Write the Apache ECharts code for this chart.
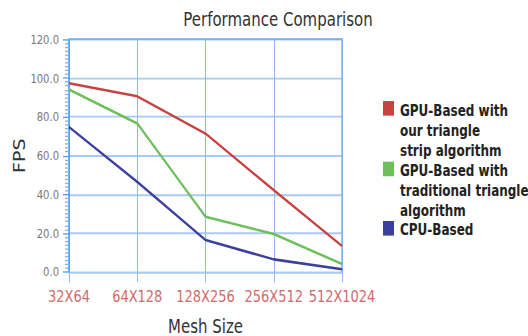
<!DOCTYPE html>
<html>
<head>
<meta charset="utf-8">
<script src="https://cdn.jsdelivr.net/npm/echarts@6/dist/echarts.min.js"></script>
<style>
  html, body { margin: 0; padding: 0; background: #fff; }
  body { width: 528px; height: 336px; }
  /* drawn at a shorter height and stretched vertically */
  #chart { width: 528px; height: 265px; transform: scaleY(1.268); transform-origin: 0 0; }
</style>
</head>
<body>
<div id="chart"></div>
<script>
const categories = ['32X64', '64X128', '128X256', '256X512', '512X1024'];
const stripGpu = [97.3, 90.6, 71.4, 42.2, 13.4];
const traditionalGpu = [94.1, 76.6, 28.5, 19.6, 4.1];
const cpuBased = [74.8, 46.5, 16.5, 6.5, 1.4];
const seriesNames = [
  'GPU-Based with\nour triangle\nstrip algorithm',
  'GPU-Based with\ntraditional triangle\nalgorithm',
  'CPU-Based'
];
const seriesColors = ['#c84242', '#6cbf5a', '#3c3f9e'];
const seriesValues = [stripGpu, traditionalGpu, cpuBased];

const chart = echarts.init(document.getElementById('chart'), null, { renderer: 'svg' });

const gridBlue = '#a9caf3';
const axisBlue = '#4a9ee8';

// legend swatches and labels, placed beside the plot
const legendTop = [79.7, 127.5, 174.3];
const legendLines = [87.5, 134.6, 180.6];
const legendGraphics = [];
seriesNames.forEach((name, i) => {
  legendGraphics.push({
    type: 'rect',
    shape: { x: 383, y: legendTop[i], width: 11, height: 11.5 },
    style: { fill: seriesColors[i] }
  });
  legendGraphics.push({
    type: 'text',
    x: 400,
    y: legendLines[i] - 7.75,
    style: {
      text: name,
      fill: '#222',
      font: 'bold 12px "DejaVu Sans"',
      lineHeight: 15.5,
      verticalAlign: 'top'
    }
  });
});

chart.setOption({
  animation: false,
  title: {
    text: 'Performance Comparison',
    left: 273,
    textAlign: 'center',
    top: 3,
    textStyle: { fontFamily: 'DejaVu Sans', fontSize: 15, fontWeight: 'normal', color: '#333' }
  },
  grid: { left: 69, right: 186, top: 31, bottom: 50.5, outerBoundsMode: 'none', containLabel: false },
  xAxis: {
    type: 'category',
    data: categories,
    boundaryGap: false,
    name: 'Mesh Size',
    nameLocation: 'middle',
    nameGap: 35,
    nameTextStyle: { fontFamily: 'DejaVu Sans', fontSize: 15, color: '#333' },
    axisLine: { lineStyle: { color: gridBlue, width: 1.5 } },
    axisTick: { show: true, interval: 0, length: 8, lineStyle: { color: '#8fb8f0' } },
    axisLabel: { interval: 0, margin: 12, fontFamily: 'DejaVu Sans', fontSize: 13, color: '#d06a6a' },
    splitLine: { show: true, interval: 0, lineStyle: { color: '#8fb8f0', width: 1 } }
  },
  yAxis: {
    type: 'value',
    min: 0,
    max: 120,
    interval: 20,
    name: 'FPS',
    nameLocation: 'middle',
    nameGap: 42,
    nameMoveOverlap: false,
    nameTextStyle: { fontFamily: 'DejaVu Sans', fontSize: 15, color: '#333' },
    axisLine: { show: true, lineStyle: { color: axisBlue, width: 1.5 } },
    axisTick: { show: true, length: 6, lineStyle: { color: axisBlue } },
    minorTick: { show: true, splitNumber: 10, length: 4, lineStyle: { color: '#7ab4f0' } },
    axisLabel: {
      margin: 10,
      fontFamily: 'DejaVu Sans',
      fontSize: 10,
      color: '#777',
      formatter: v => v.toFixed(1)
    },
    splitLine: { show: true, lineStyle: { color: gridBlue, width: 1.5 } }
  },
  series: seriesValues.map((vals, i) => ({
    type: 'line',
    name: seriesNames[i],
    data: vals,
    showSymbol: false,
    symbol: 'none',
    lineStyle: { color: seriesColors[i], width: 2 },
    itemStyle: { color: seriesColors[i] },
    z: 3 + (2 - i)
  })),
  graphic: [
    // frame along the top and right of the plot
    {
      type: 'polyline',
      shape: { points: [[69, 31], [342, 31], [342, 214.5]] },
      style: { stroke: '#7ab4f0', lineWidth: 1.5, fill: null },
      z: 1
    }
  ].concat(legendGraphics)
});
</script>
</body>
</html>
